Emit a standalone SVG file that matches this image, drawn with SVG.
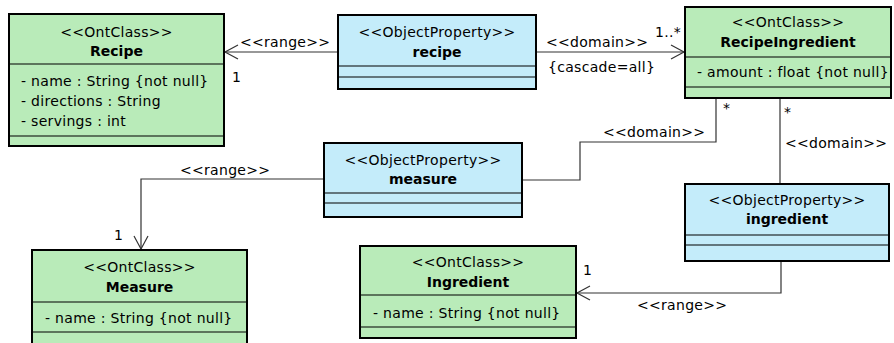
<svg xmlns="http://www.w3.org/2000/svg" width="894" height="343" viewBox="0 0 894 343">
<defs>
<style>
text{font-family:"DejaVu Sans","Liberation Sans",sans-serif;font-size:14px;fill:#000;letter-spacing:0.3px}
.c{text-anchor:middle}
.b{font-weight:bold;letter-spacing:0}
.cls{fill:#b9ebb9;stroke:#000;stroke-width:2}
.prop{fill:#c4ecfa;stroke:#000;stroke-width:2}
.div{stroke:#000;stroke-width:1.2;fill:none}
.ln{stroke:#333;stroke-width:1.2;fill:none}
.ah{stroke:#333;stroke-width:1.2;fill:none}
</style>
</defs>
<g id="connectors">
<path class="ln" d="M338,52 H225"/>
<path class="ah" d="M238,45 L225,52 L238,59"/>
<text x="240" y="47">&lt;&lt;range&gt;&gt;</text>
<text x="232" y="82">1</text>
<path class="ln" d="M536,52 H684"/>
<path class="ah" d="M671,45 L684,52 L671,59"/>
<text x="546" y="47">&lt;&lt;domain&gt;&gt;</text>
<text x="548" y="72">{cascade=all}</text>
<text x="655" y="37">1..*</text>
<path class="ln" d="M522,180 H580 V142 H716 V99"/>
<text x="603" y="137">&lt;&lt;domain&gt;&gt;</text>
<text x="723" y="113">*</text>
<path class="ln" d="M780,99 V184"/>
<text x="784" y="117">*</text>
<text x="785" y="148">&lt;&lt;domain&gt;&gt;</text>
<path class="ln" d="M323,179 H141 V249"/>
<path class="ah" d="M134,236 L141,249 L148,236"/>
<text x="180" y="175">&lt;&lt;range&gt;&gt;</text>
<text x="114" y="240">1</text>
<path class="ln" d="M781,261 V293 H577"/>
<path class="ah" d="M590,286 L577,293 L590,300"/>
<text x="583" y="275">1</text>
<text x="637" y="310">&lt;&lt;range&gt;&gt;</text>
</g>
<g id="Recipe">
<rect class="cls" x="9" y="14" width="215" height="132"/>
<path class="div" d="M9,64 H224 M9,136 H224"/>
<text class="c" x="116.5" y="37">&lt;&lt;OntClass&gt;&gt;</text>
<text class="c b" x="116.5" y="56">Recipe</text>
<text x="21" y="86">- name : String {not null}</text>
<text x="21" y="106">- directions : String</text>
<text x="21" y="126">- servings : int</text>
</g>
<g id="recipe">
<rect class="prop" x="338" y="15" width="198" height="74"/>
<path class="div" d="M338,66 H536 M338,77 H536"/>
<text class="c" x="437" y="37">&lt;&lt;ObjectProperty&gt;&gt;</text>
<text class="c b" x="437" y="57">recipe</text>
</g>
<g id="RecipeIngredient">
<rect class="cls" x="685" y="7" width="206" height="91"/>
<path class="div" d="M685,57 H891 M685,87 H891"/>
<text class="c" x="788" y="27">&lt;&lt;OntClass&gt;&gt;</text>
<text class="c b" x="788" y="47">RecipeIngredient</text>
<text x="697" y="77">- amount : float {not null}</text>
</g>
<g id="measure">
<rect class="prop" x="324" y="143" width="198" height="74"/>
<path class="div" d="M324,193 H522 M324,203 H522"/>
<text class="c" x="423" y="165">&lt;&lt;ObjectProperty&gt;&gt;</text>
<text class="c b" x="423" y="184">measure</text>
</g>
<g id="ingredient">
<rect class="prop" x="685" y="184" width="204" height="77"/>
<path class="div" d="M685,235 H889 M685,245 H889"/>
<text class="c" x="787" y="205">&lt;&lt;ObjectProperty&gt;&gt;</text>
<text class="c b" x="787" y="224">ingredient</text>
</g>
<g id="Ingredient">
<rect class="cls" x="360" y="246" width="216" height="92"/>
<path class="div" d="M360,295 H576 M360,327 H576"/>
<text class="c" x="468" y="267">&lt;&lt;OntClass&gt;&gt;</text>
<text class="c b" x="468" y="287">Ingredient</text>
<text x="373" y="318">- name : String {not null}</text>
</g>
<g id="Measure">
<rect class="cls" x="32" y="250" width="215" height="100"/>
<path class="div" d="M32,302 H247 M32,332 H247"/>
<text class="c" x="139.5" y="272">&lt;&lt;OntClass&gt;&gt;</text>
<text class="c b" x="139.5" y="292">Measure</text>
<text x="45" y="323">- name : String {not null}</text>
</g>
</svg>
